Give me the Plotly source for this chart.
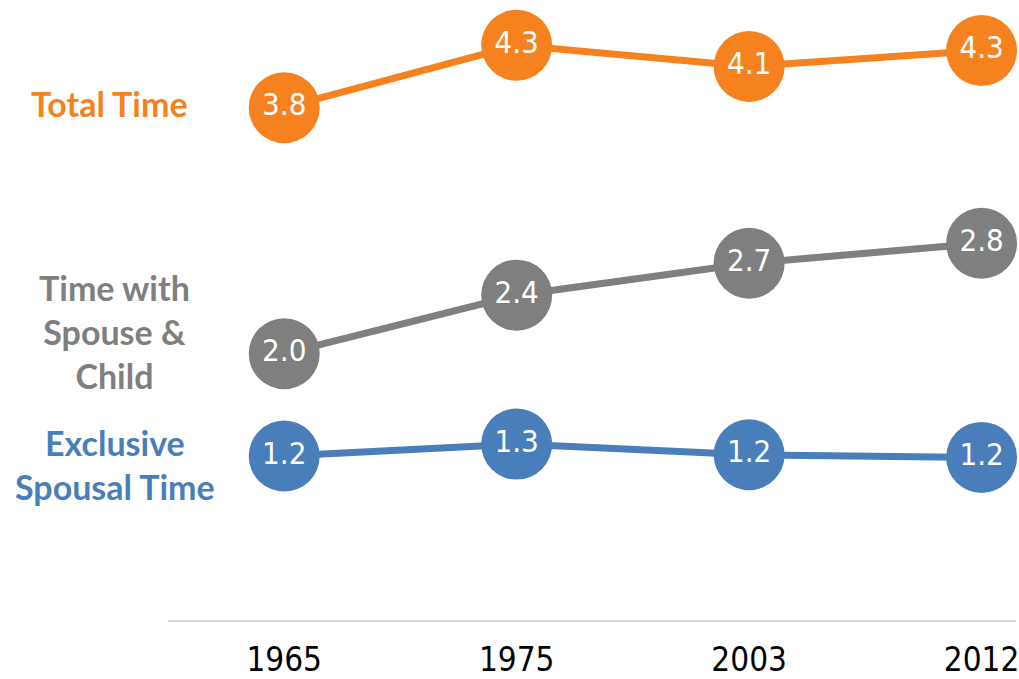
import plotly.graph_objects as go

years = ["1965", "1975", "2003", "2012"]
total_time = [3.83, 4.30, 4.14, 4.26]
spouse_child_time = [1.98, 2.42, 2.66, 2.81]
exclusive_spousal_time = [1.21, 1.30, 1.22, 1.20]

series_names = ["Total Time", "Time with<br>Spouse &<br>Child", "Exclusive<br>Spousal Time"]
series_values = [total_time, spouse_child_time, exclusive_spousal_time]
series_colors = ["#F5821F", "#7F7F7F", "#4A7EBB"]

num_font = "Liberation Sans Narrow, DejaVu Sans Condensed, Arial Narrow, sans-serif"
label_font = "Lato, Carlito, Calibri, sans-serif"

W, H = 1019, 679
ML, MB = 168, 54
plot_w = W - ML
plot_h = H - MB

fig = go.Figure()
for name, vals, col in zip(series_names, series_values, series_colors):
    fig.add_trace(go.Scatter(
        x=years, y=vals, mode="lines+markers+text",
        line=dict(color=col, width=7),
        marker=dict(color=col, size=71, line=dict(width=0)),
        text=[f"{v:.1f}" for v in vals],
        textposition="middle center",
        textfont=dict(color="white", size=31, family=num_font),
        cliponaxis=False, showlegend=False, hoverinfo="skip",
    ))

# left-side series labels (pixel centres converted to paper coords)
label_pos = [(109, 104), (114, 334), (115, 468)]
for name, col, (px, py) in zip(series_names, series_colors, label_pos):
    fig.add_annotation(
        text=f"<b>{name}</b>", xref="paper", yref="paper",
        x=(px - ML) / plot_w, y=1 - py / plot_h,
        xanchor="center", yanchor="middle", showarrow=False,
        font=dict(color=col, size=34, family=label_font),
        align="center",
    )

fig.update_layout(
    width=W, height=H,
    margin=dict(l=ML, r=0, t=0, b=MB, pad=0),
    paper_bgcolor="white", plot_bgcolor="white",
    xaxis=dict(
        type="category", range=[-0.5, 3.148],
        showline=True, linecolor="#D9D9D9", linewidth=2,
        showgrid=False, zeroline=False,
        ticks="outside", ticklen=9, tickcolor="rgba(0,0,0,0)",
        tickfont=dict(size=33, color="black", family=num_font),
    ),
    yaxis=dict(
        range=[-0.023, 4.64], visible=False, showgrid=False, zeroline=False,
    ),
)

fig.write_html(
    "out.html",
    config={"displayModeBar": False},
    post_script="document.body.style.margin='0';document.body.style.overflow='hidden';",
)
